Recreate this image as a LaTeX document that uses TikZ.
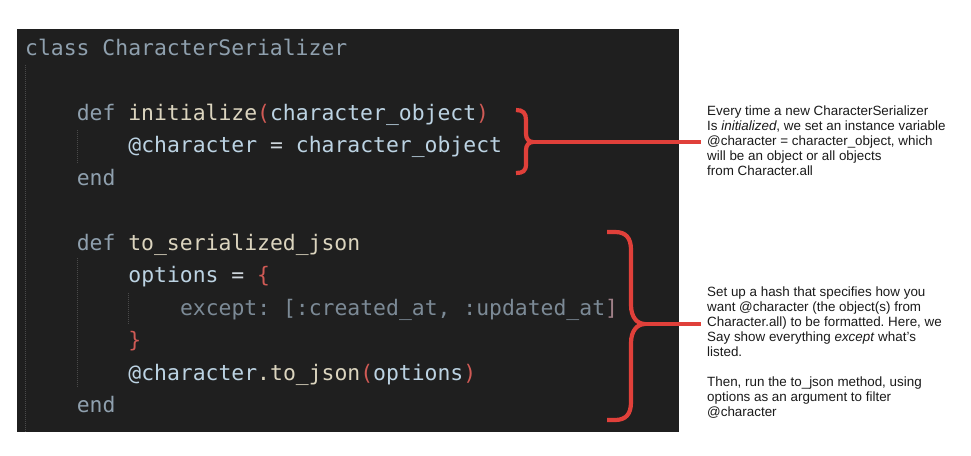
\documentclass[tikz,border=0pt]{standalone}
\usepackage{fontspec}
\setmainfont{Liberation Sans}
\newfontfamily\codefont{DejaVu Sans Mono}
\frenchspacing
\definecolor{bgc}{HTML}{1F1F1F}
\definecolor{kwc}{HTML}{8FA0AE}
\definecolor{fnc}{HTML}{DCD5BF}
\definecolor{idc}{HTML}{BCD3E3}
\definecolor{opc}{HTML}{CFD6DC}
\definecolor{cmc}{HTML}{7C8A96}
\definecolor{pnc}{HTML}{D05A55}
\definecolor{brc}{HTML}{A08088}
\definecolor{redc}{HTML}{E0403A}
\definecolor{guidec}{HTML}{4A4A4A}
\definecolor{notec}{HTML}{1A1A1A}
\newcommand\ckw[1]{\textcolor{kwc}{#1}}
\newcommand\cfn[1]{\textcolor{fnc}{#1}}
\newcommand\cid[1]{\textcolor{idc}{#1}}
\newcommand\cop[1]{\textcolor{opc}{#1}}
\newcommand\ccm[1]{\textcolor{cmc}{#1}}
\newcommand\cpn[1]{\textcolor{pnc}{#1}}
\tikzset{
  codeline/.style={anchor=base west, inner sep=0pt, font=\codefont\fontsize{21.4}{25}\selectfont\frenchspacing},
  note/.style={anchor=north west, inner sep=0pt, align=left, text=notec, font=\fontsize{13.4}{15}\selectfont\frenchspacing},
  bracepath/.style={draw=redc, line width=4.2pt, line cap=butt, line join=round},
  connector/.style={draw=redc, line width=4pt, shorten >=6pt},
  guide/.style={draw=guidec, line width=1pt, dash pattern=on 1pt off 1pt}
}
\begin{document}
\begin{tikzpicture}[x=1pt,y=-1pt]
\useasboundingbox (0,0) rectangle (971,455);
% editor background
\fill[bgc] (17,29) rectangle (679,432);
% indent guides
\draw[guide] (25,65) -- (25,432);
\draw[guide] (77,130) -- (77,163);
\draw[guide] (77,258) -- (77,388);
\draw[guide] (128,293) -- (128,325);
% code lines
\node[codeline] (l1) at (25,55) {\ckw{class CharacterSerializer}};
\node[codeline] (l2) at (76.6,120) {\ckw{def} \cfn{initialize}\cpn{(}\cid{character\_object}\cpn{)}};
\node[codeline] (l3) at (128.2,152.5) {\cid{@character} \cop{=} \cid{character\_object}};
\node[codeline] (l4) at (76.6,185) {\ckw{end}};
\node[codeline] (l5) at (76.6,250) {\ckw{def} \cfn{to\_serialized\_json}};
\node[codeline] (l6) at (128.2,282.5) {\cid{options} \cop{=} \cpn{\{}};
\node[codeline] (l7) at (179.8,315) {\ccm{except: [:created\_at, :updated\_at}\textcolor{brc}{]}};
\node[codeline] (l8) at (128.2,347.5) {\cpn{\}}};
\node[codeline] (l9) at (128.2,380) {\cid{@character}\cfn{.to\_json}\cpn{(}\cid{options}\cpn{)}};
\node[codeline] (l10) at (76.6,412) {\ckw{end}};
% braces
\coordinate (tip1) at (533,142);
\coordinate (tip2) at (645,324);
\draw[bracepath] (516,110) .. controls (523,110) and (526,113) .. (526,120)
  -- (526,134) .. controls (526,139) and (529,142) .. (tip1)
  .. controls (529,142) and (526,145) .. (526,150)
  -- (526,164) .. controls (526,171) and (523,173) .. (516,173);
\draw[bracepath] (607,232) -- (615,232) .. controls (626,232) and (631,238) .. (631,250)
  -- (631,305) .. controls (631,317) and (637,324) .. (tip2)
  .. controls (637,324) and (631,331) .. (631,343)
  -- (631,402) .. controls (631,414) and (626,420) .. (615,420) -- (607,420);
% notes
\node[note] (n1) at (707,105.5) {Every time a new CharacterSerializer\\
Is \textit{initialized}, we set an instance variable\\
@character = character\_object, which\\
will be an object or all objects\\
from Character.all};
\node[note] (n2) at (707,286.5) {Set up a hash that specifies how you\\
want @character (the object(s) from\\
Character.all) to be formatted. Here, we\\
Say show everything \textit{except} what's\\
listed.\\[15pt]
Then, run the to\_json method, using\\
options as an argument to filter\\
@character};
% connectors
\draw[connector] (tip1) -- (tip1 -| n1.west);
\draw[connector] (tip2) -- (tip2 -| n2.west);
\end{tikzpicture}
\end{document}
